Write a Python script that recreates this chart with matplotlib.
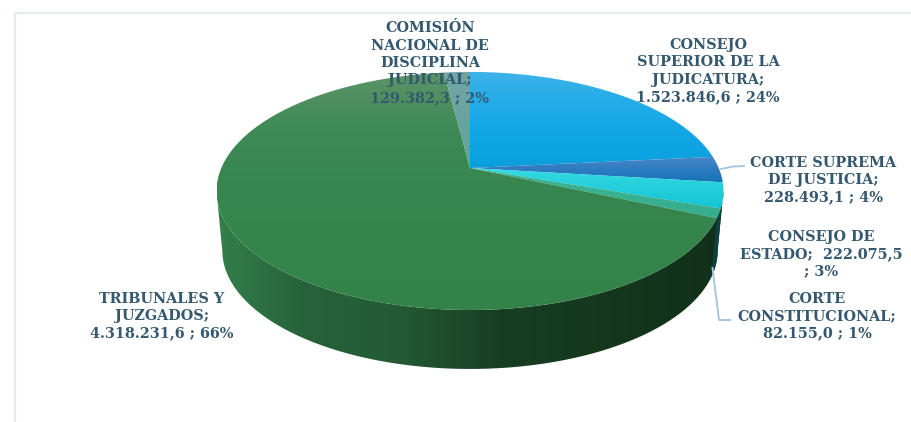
"""Torta 3D del presupuesto de la rama judicial, dibujada con poligonos en perspectiva."""

import matplotlib

matplotlib.use("Agg")
import matplotlib.pyplot as plt
import numpy as np
from matplotlib.colors import LinearSegmentedColormap
from matplotlib.patches import PathPatch, Polygon
from matplotlib.path import Path

# Datos, en el orden de la torta (sentido horario desde arriba).
sectors = ["CONSEJO SUPERIOR", "CORTE SUPREMA", "CONSEJO DE ESTADO",
           "CORTE CONSTITUCIONAL", "TRIBUNALES Y JUZGADOS", "COMISION NACIONAL"]
values = [1523846.6, 228493.1, 222075.5, 82155.0, 4318231.6, 129382.3]
labels = [
    "CONSEJO\nSUPERIOR DE LA\nJUDICATURA;\n1.523.846,6 ; 24%",
    "CORTE SUPREMA\nDE JUSTICIA;\n228.493,1 ; 4%",
    "CONSEJO DE\nESTADO;  222.075,5\n; 3%",
    "CORTE\nCONSTITUCIONAL;\n82.155,0 ; 1%",
    "TRIBUNALES Y\nJUZGADOS;\n4.318.231,6 ; 66%",
    "COMISIÓN\nNACIONAL DE\nDISCIPLINA\nJUDICIAL;\n129.382,3 ; 2%",
]
label_pos = [(708, 71), (823, 180), (821, 254), (817, 316), (162, 316), (430, 63)]
top_colors = [
    ("#3fb2e8", "#22ace8", "#10a5e5", "#0a9fdc"),
    ("#4a86c8", "#1472b8"),
    ("#34dbe2", "#14c4d4"),
    ("#3cb596", "#34ae8c"),
    ("#5b9468", "#3e8a55", "#38864f", "#35844c", "#33824a"),
    ("#6fa5a5", "#66a0a0"),
]
wall_stops = [(217, "#337f4a"), (300, "#27633a"), (400, "#235a33"), (500, "#183e22"), (725, "#11301a")]

TEXT_COLOR = "#34586f"
LINE_COLOR = "#a9c6dc"
FRAME_COLOR = "#e1eaf1"

# Geometria de la perspectiva, en pixeles de la imagen.
CX, CY = 470, 168
K = 0.193
TOP_R, TOP_H = 248.7, 114.6
BOT_R, BOT_H, BOT_CY = 243, 114, 227.7


def project(theta, r, h, cy):
    """Pasa angulos (horario desde arriba) del circulo a la elipse en perspectiva."""
    u, v = np.sin(theta), np.cos(theta)
    w = 1 + K * v
    return CX + r * u / w, cy - h * v / w


def gradient_fill(ax, verts, cmap, extent, horizontal=False, zorder=2):
    n = 256
    grad = np.linspace(0, 1, n)
    img = grad.reshape(1, -1) if horizontal else grad.reshape(-1, 1)
    im = ax.imshow(img, cmap=cmap, extent=extent, aspect="auto", origin="upper",
                   vmin=0, vmax=1, zorder=zorder, interpolation="bilinear")
    patch = PathPatch(Path(verts), transform=ax.transData, fc="none", ec="none")
    ax.add_patch(patch)
    im.set_clip_path(patch)


def main():
    fig = plt.figure(figsize=(9.11, 4.22), dpi=100)
    ax = fig.add_axes([0, 0, 1, 1])

    # Marco del grafico.
    ax.plot([15, 15, 911], [422, 13, 13], color=FRAME_COLOR, lw=1.6, zorder=1)

    fractions = np.array(values) / sum(values)
    edges = np.concatenate([[0], np.cumsum(fractions)]) * 2 * np.pi
    # Punto mas ancho de la elipse: v = -K
    widest = np.arccos(-K)

    # Pared lateral: del extremo derecho al izquierdo pasando por el frente.
    front = np.linspace(widest, 2 * np.pi - widest, 300)
    tx, ty = project(front, TOP_R, TOP_H, CY)
    bx, by = project(front, BOT_R, BOT_H, BOT_CY)
    wall = np.vstack([np.c_[tx, ty], np.c_[bx, by][::-1], [[tx[0], ty[0]]]])
    x0, x1 = wall_stops[0][0], wall_stops[-1][0]
    wall_cmap = LinearSegmentedColormap.from_list(
        "wall", [((x - x0) / (x1 - x0), c) for x, c in wall_stops])
    gradient_fill(ax, wall, wall_cmap, (x0, x1, 380, 150), horizontal=True, zorder=2)

    # Franja teal de la pared para los sectores pequenos de la derecha.
    strip = np.linspace(widest, edges[4], 30)
    sx, sy = project(strip, TOP_R, TOP_H, CY)
    ex, ey = project(strip, BOT_R, BOT_H, BOT_CY)
    ax.add_patch(Polygon(np.vstack([np.c_[sx, sy], np.c_[ex, ey][::-1]]),
                         closed=True, fc="#0f4040", ec="none", zorder=3))

    # Cara superior, un poligono por sector.
    for i in range(len(values)):
        arc = np.linspace(edges[i], edges[i + 1], max(int(fractions[i] * 400), 12))
        ax_x, ax_y = project(arc, TOP_R, TOP_H, CY)
        verts = np.vstack([[[CX, CY]], np.c_[ax_x, ax_y], [[CX, CY]]])
        top, bottom = verts[:, 1].min(), verts[:, 1].max()
        cmap = LinearSegmentedColormap.from_list(f"s{i}", top_colors[i])
        gradient_fill(ax, verts, cmap, (verts[:, 0].min(), verts[:, 0].max(), bottom, top), zorder=4)

    # Lineas guia.
    ax.plot([721, 733, 744], [169, 166.5, 166], color=LINE_COLOR, lw=1.4, zorder=5)
    ax.plot([712.5, 719, 730], [268, 320, 320], color=LINE_COLOR, lw=1.4, zorder=5)

    for text, (x, y) in zip(labels, label_pos):
        ax.text(x, y, text, ha="center", va="center", color=TEXT_COLOR, fontsize=10.4,
                family="DejaVu Serif", fontweight="bold", linespacing=1.31, zorder=6)

    ax.set_xlim(0, 911)
    ax.set_ylim(422, 0)
    ax.axis("off")
    fig.savefig("out.png", dpi=100)


if __name__ == "__main__":
    main()
